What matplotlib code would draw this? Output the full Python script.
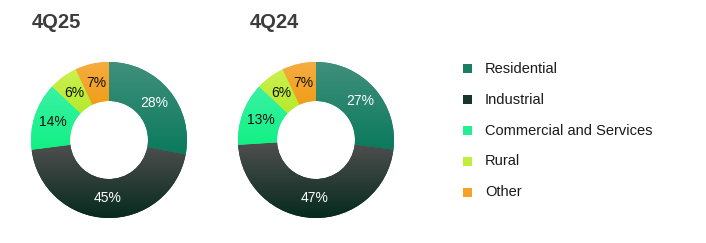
import numpy as np
import matplotlib
matplotlib.use("Agg")
import matplotlib.pyplot as plt
from matplotlib.patches import Rectangle
from matplotlib.colors import LinearSegmentedColormap

plt.rcParams['font.family'] = ['Liberation Sans', 'DejaVu Sans']

categories = ["Residential", "Industrial", "Commercial and Services", "Rural", "Other"]
values_4q25 = [28, 45, 14, 6, 7]
values_4q24 = [27, 47, 13, 6, 7]
titles = ["4Q25", "4Q24"]

# (top, bottom) gradient colours per category
grad_colors = [("#40907c", "#0b7a5c"),
               ("#4f4f4f", "#062a1e"),
               ("#3af2a4", "#12f084"),
               ("#ccf050", "#b4ea2c"),
               ("#f6ac40", "#f09e18")]
legend_colors = ["#1a7d64", "#16352b", "#22f090", "#c0ee3c", "#f3a428"]
label_colors = ["white", "white", "#111111", "#111111", "#111111"]

W, H = 706, 243
fig = plt.figure(figsize=(W / 100, H / 100), dpi=100)

R = 78.0
centers = [(109, 140), (316, 140)]
title_x = [32, 250]
data = [values_4q25, values_4q24]

for (cx, cy), vals, ttl, tx in zip(centers, data, titles, title_x):
    half = 84
    ax = fig.add_axes([(cx - half) / W, (H - cy - half) / H, 2 * half / W, 2 * half / H])
    lim = half / R
    ax.set_xlim(-lim, lim)
    ax.set_ylim(-lim, lim)
    ax.axis('off')
    wedges, texts, autotexts = ax.pie(
        vals, startangle=90, counterclock=False, radius=1.0,
        wedgeprops=dict(width=0.5, linewidth=0),
        autopct=lambda p: f"{p:.0f}%", pctdistance=0.75,
        textprops=dict(fontsize=10))
    for w, (c_top, c_bot), at, lc in zip(wedges, grad_colors, autotexts, label_colors):
        w.set_facecolor(c_bot)
        ext = w.get_path().get_extents(w.get_patch_transform())
        cmap = LinearSegmentedColormap.from_list("g", [c_bot, c_top])
        grad = np.linspace(0, 1, 128).reshape(-1, 1)
        im = ax.imshow(grad, cmap=cmap, origin='lower', aspect='auto',
                       extent=[ext.x0, ext.x1, ext.y0, ext.y1], zorder=2)
        im.set_clip_path(w)
        at.set_color(lc)
        at.set_zorder(5)
    ax.set_xlim(-lim, lim)
    ax.set_ylim(-lim, lim)
    fig.text(tx / W, 1 - 23 / H, ttl, fontsize=14.5, fontweight='bold',
             color='#3c3c3c', ha='left', va='center')

legend_y = [69, 100, 131, 161, 192]
for cat, col, ly in zip(categories, legend_colors, legend_y):
    fig.add_artist(Rectangle(((463) / W, 1 - (ly + 4.5) / H), 9 / W, 9 / H,
                             transform=fig.transFigure, facecolor=col, edgecolor='none'))
    fig.text(485 / W, 1 - ly / H, cat, fontsize=10.5, color='#1a1a1a',
             ha='left', va='center')

fig.savefig("out.png", dpi=100)
